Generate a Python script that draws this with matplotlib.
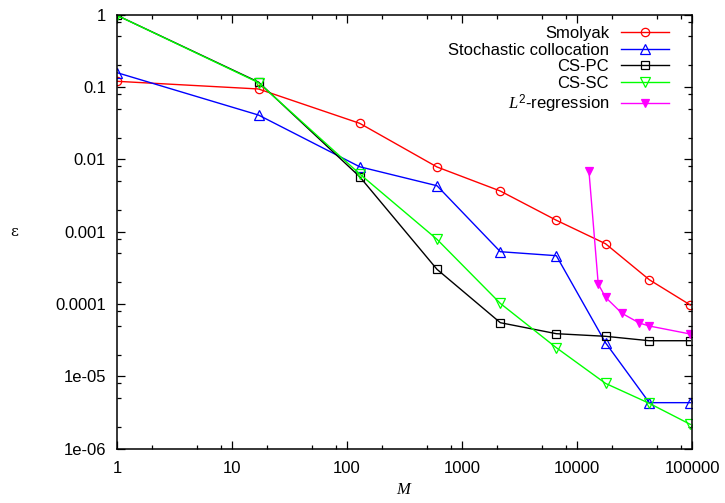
import matplotlib
matplotlib.use("Agg")
import matplotlib.pyplot as plt
from matplotlib.ticker import LogLocator, FixedLocator, FixedFormatter, NullFormatter

plt.rcParams['font.family'] = ['Liberation Sans', 'DejaVu Sans']
plt.rcParams['mathtext.fontset'] = 'custom'
plt.rcParams['mathtext.it'] = 'Liberation Serif:italic'
plt.rcParams['mathtext.rm'] = 'Liberation Sans'

# Data
M = [1, 17, 129, 606, 2154, 6610, 17700, 42500, 96600]
smolyak = [0.120, 0.094, 0.0315, 0.00785, 0.00365, 0.00144, 0.000682, 0.000217, 9.7e-5]
stoch_colloc = [0.158, 0.041, 0.0079, 0.00432, 0.000529, 0.000466, 2.92e-5, 4.33e-6, 4.33e-6]
cs_pc = [0.98, 0.117, 0.00575, 0.000302, 5.52e-5, 3.89e-5, 3.58e-5, 3.11e-5, 3.11e-5]
cs_sc = [0.98, 0.115, 0.00628, 0.000785, 0.000102, 2.49e-5, 8.0e-6, 4.24e-6, 2.17e-6]
M_l2 = [12700, 15300, 17700, 24600, 34800, 42500, 96600]
l2_reg = [0.0069, 0.000189, 0.000124, 7.44e-5, 5.47e-5, 4.97e-5, 3.85e-5]

xticks = [1, 10, 100, 1000, 10000, 100000]
xticklabels = ['1', '10', '100', '1000', '10000', '100000']
yticks = [1, 0.1, 0.01, 0.001, 0.0001, 1e-05, 1e-06]
yticklabels = ['1', '0.1', '0.01', '0.001', '0.0001', '1e-05', '1e-06']

fig = plt.figure(figsize=(7.25, 5.03), dpi=100)
W, H = 725, 503
ax = fig.add_axes([117 / W, 1 - 448.7 / H, (692 - 117) / W, (448.7 - 14.7) / H])

lw = 1.0
mew = 0.9
ax.plot(M, smolyak, color='#ff0000', lw=lw, marker='o', ms=6, mfc='none', mec='#ff0000', mew=mew, label='Smolyak')
ax.plot(M, stoch_colloc, color='#0000ff', lw=lw, marker='^', ms=6.8, mfc='none', mec='#0000ff', mew=mew, label='Stochastic collocation')
ax.plot(M, cs_pc, color='#000000', lw=lw, marker='s', ms=5.8, mfc='none', mec='#000000', mew=mew, label='CS-PC')
ax.plot(M, cs_sc, color='#00ff00', lw=lw, marker='v', ms=6.8, mfc='none', mec='#00ff00', mew=mew, label='CS-SC')
ax.plot(M_l2, l2_reg, color='#ff00ff', lw=lw, marker='v', ms=5.5, mfc='#ff00ff', mec='#ff00ff', mew=mew, label='$L^2$-regression')

ax.set_xscale('log')
ax.set_yscale('log')
ax.set_xlim(1, 100000)
ax.set_ylim(1e-06, 1)

ax.xaxis.set_major_locator(FixedLocator(xticks))
ax.xaxis.set_major_formatter(FixedFormatter(xticklabels))
ax.yaxis.set_major_locator(FixedLocator(yticks))
ax.yaxis.set_major_formatter(FixedFormatter(yticklabels))
ax.xaxis.set_minor_locator(LogLocator(base=10, subs=[2, 5, 8], numticks=20))
ax.yaxis.set_minor_locator(LogLocator(base=10, subs=[2, 5, 8], numticks=20))
ax.xaxis.set_minor_formatter(NullFormatter())
ax.yaxis.set_minor_formatter(NullFormatter())

ax.tick_params(which='both', direction='in', top=True, right=True, width=0.9, labelsize=12, colors='black')
ax.tick_params(which='major', length=6)
ax.tick_params(which='minor', length=3)
ax.tick_params(axis='y', pad=8)
ax.tick_params(axis='x', pad=9)
for s in ax.spines.values():
    s.set_linewidth(1.1)

ax.set_xlabel('$M$', fontsize=12, labelpad=4)
ax.text(14 / W, 1 - 231.7 / H, 'ε', transform=fig.transFigure, family='DejaVu Serif',
        fontsize=11, ha='center', va='center')

leg = ax.legend(loc='upper right', bbox_to_anchor=(669 / W, 1 - 26 / H), bbox_transform=fig.transFigure,
                frameon=False, markerfirst=False, fontsize=12, handlelength=2.9, handletextpad=0.7,
                labelspacing=0.1, borderpad=0, borderaxespad=0)

fig.savefig('out.png', dpi=100)
